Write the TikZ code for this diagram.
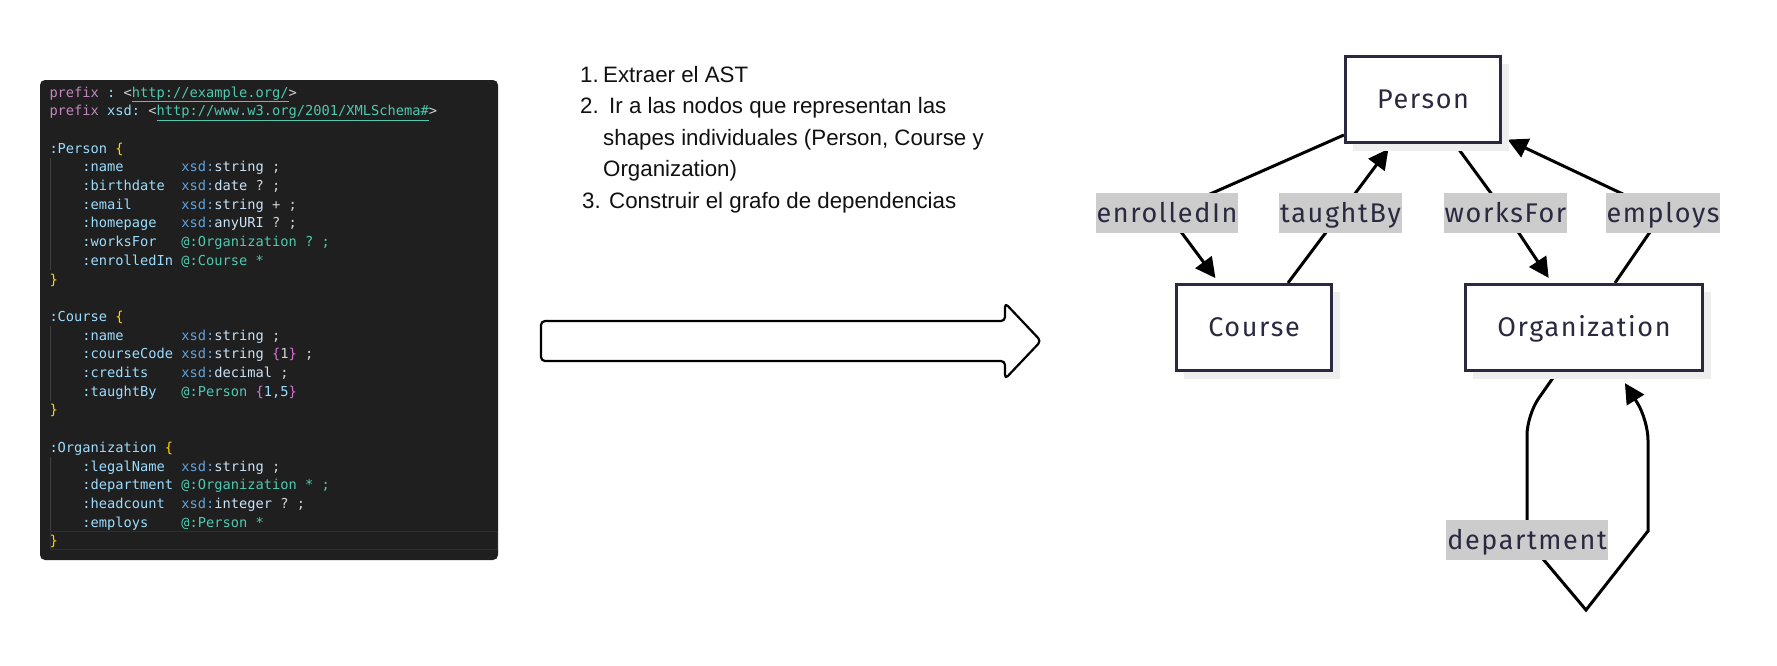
\documentclass[tikz,border=0pt]{standalone}
\usepackage{fontspec}
\usetikzlibrary{arrows.meta,shadows,backgrounds}
\setmainfont{Liberation Sans}
\newfontfamily\codefont{DejaVu Sans Mono}
\newfontfamily\graphfont[LetterSpace=6]{Fira Sans}

\definecolor{codebg}{HTML}{1F1F1F}
\definecolor{codeplain}{HTML}{D4D4D4}
\definecolor{codekw}{HTML}{C586C0}
\definecolor{codeprop}{HTML}{9CDCFE}
\definecolor{codelocal}{HTML}{C8E2F8}
\definecolor{codens}{HTML}{5FA2DC}
\definecolor{codeiri}{HTML}{4EC9B0}
\definecolor{codebrace}{HTML}{FFD700}
\definecolor{codecurly}{HTML}{DA70D6}
\definecolor{codeguide}{HTML}{404040}
\definecolor{codecur}{HTML}{2E2E2E}
\definecolor{steptextcol}{HTML}{111111}
\definecolor{graphline}{HTML}{2A2940}
\definecolor{graphtext}{HTML}{2A2940}
\definecolor{labelgray}{HTML}{CCCCCC}
\definecolor{shadowgray}{HTML}{EEEEEE}

\begin{document}
\begin{tikzpicture}[x=1pt, y=-1pt,
	codetext/.style={anchor=base west, inner sep=0pt, text=codeplain,
		font=\codefont\fontsize{13.7}{18.7}\selectfont\frenchspacing},
	steptext/.style={anchor=base west, inner sep=0pt, text=steptextcol,
		font=\fontsize{22.3}{31.5}\selectfont},
	shapebox/.style={draw=graphline, line width=2.7pt, fill=white,
		minimum height=86.5pt, inner sep=0pt, text height=18pt, text depth=0pt,
		font=\graphfont\fontsize{27}{32}\selectfont, text=graphtext,
		general shadow={fill=shadowgray, shadow xshift=8pt, shadow yshift=-8pt}},
	edgelabel/.style={fill=labelgray, inner xsep=1pt, inner ysep=0pt,
		minimum height=40pt, text height=19pt, text depth=0pt,
		font=\graphfont\fontsize{27}{32}\selectfont, text=graphtext},
	edgeline/.style={draw=black, line width=3pt,
		-{Triangle[length=20pt, width=20pt]}, shorten >=6pt},
	guide/.style={draw=codeguide, line width=1pt},
	curline/.style={draw=codecur, line width=1pt},
	bigarrow/.style={draw=black, line width=2.2pt, rounded corners=4pt, line join=round}]

	\useasboundingbox (0,0) rectangle (1777,665);

	% code colours
	\newcommand*{\ckw}[1]{\textcolor{codekw}{#1}}
	\newcommand*{\cprop}[1]{\textcolor{codeprop}{#1}}
	\newcommand*{\clocal}[1]{\textcolor{codelocal}{#1}}
	\newcommand*{\cns}[1]{\textcolor{codens}{#1}}
	\newcommand*{\ciri}[1]{\textcolor{codeiri}{\underline{#1}}}
	\newcommand*{\cshape}[1]{\textcolor{codeiri}{#1}}
	\newcommand*{\cbrace}[1]{\textcolor{codebrace}{#1}}
	\newcommand*{\ccurly}[1]{\textcolor{codecurly}{#1}}
	\newcommand*{\cfield}[2]{\hspace*{2.408em}\makebox[7.224em][l]{#1}#2}
	\newcommand*{\codeln}[2]{%
	\node[codetext] (code#1) at (49.3,{97+(#1-1)*18.7}) {#2};
	}

	% code panel
	\fill[codebg, rounded corners=5pt] (40,80) rectangle (498,560);
	\draw[guide] (50,158) -- (50,270);
	\draw[guide] (50,326) -- (50,401);
	\draw[guide] (50,457) -- (50,532);
	\draw[curline] (50,531) rectangle (497,549);

	\codeln{1}{\ckw{prefix} \cprop{:} <\ciri{http://example.org/}>}
	\codeln{2}{\ckw{prefix} \cprop{xsd:} <\ciri{http://www.w3.org/2001/XMLSchema\#}>}
	\codeln{4}{\cprop{:Person} \cbrace{\{}}
	\codeln{5}{\cfield{\cprop{:name}}{\cns{xsd:}\clocal{string} ;}}
	\codeln{6}{\cfield{\cprop{:birthdate}}{\cns{xsd:}\clocal{date} ? ;}}
	\codeln{7}{\cfield{\cprop{:email}}{\cns{xsd:}\clocal{string} + ;}}
	\codeln{8}{\cfield{\cprop{:homepage}}{\cns{xsd:}\clocal{anyURI} ? ;}}
	\codeln{9}{\cfield{\cprop{:worksFor}}{\cshape{@:Organization ? ;}}}
	\codeln{10}{\cfield{\cprop{:enrolledIn}}{\cshape{@:Course *}}}
	\codeln{11}{\cbrace{\}}}
	\codeln{13}{\cprop{:Course} \cbrace{\{}}
	\codeln{14}{\cfield{\cprop{:name}}{\cns{xsd:}\clocal{string} ;}}
	\codeln{15}{\cfield{\cprop{:courseCode}}{\cns{xsd:}\clocal{string} \ccurly{\{}1\ccurly{\}} ;}}
	\codeln{16}{\cfield{\cprop{:credits}}{\cns{xsd:}\clocal{decimal} ;}}
	\codeln{17}{\cfield{\cprop{:taughtBy}}{\cshape{@:Person} \ccurly{\{}\cprop{1,5}\ccurly{\}}}}
	\codeln{18}{\cbrace{\}}}
	\codeln{20}{\cprop{:Organization} \cbrace{\{}}
	\codeln{21}{\cfield{\cprop{:legalName}}{\cns{xsd:}\clocal{string} ;}}
	\codeln{22}{\cfield{\cprop{:department}}{\cshape{@:Organization * ;}}}
	\codeln{23}{\cfield{\cprop{:headcount}}{\cns{xsd:}\clocal{integer} ? ;}}
	\codeln{24}{\cfield{\cprop{:employs}}{\cshape{@:Person *}}}
	\codeln{25}{\cbrace{\}}}

	% steps
	\node[steptext] (num1) at (580,82) {1.};
	\node[steptext] (step1) at (603,82) {Extraer el AST};
	\node[steptext] (num2) at (580,113.5) {2.};
	\node[steptext] (step2a) at (609,113.5) {Ir a las nodos que representan las};
	\node[steptext] (step2b) at (603,145) {shapes individuales (Person, Course y};
	\node[steptext] (step2c) at (603,176.5) {Organization)};
	\node[steptext] (num3) at (582,208) {3.};
	\node[steptext] (step3) at (609,208) {Construir el grafo de dependencias};

	\draw[bigarrow] (541,321) -- (1005,321) -- (1005,303) -- (1041,341)
		-- (1005,379) -- (1005,361) -- (541,361) -- cycle;

	% dependency graph
	\node[shapebox, minimum width=155.5pt] (person) at (1423,99.5) {Person};
	\node[shapebox, minimum width=155.5pt] (course) at (1254,327.5) {Course};
	\node[shapebox, minimum width=237.5pt] (organization) at (1584,327.5) {Organization};

	\node[edgelabel] (enrolled) at (1167,213) {enrolledIn};
	\node[edgelabel] (taught) at (1340.5,213) {taughtBy};
	\node[edgelabel] (works) at (1505.5,213) {worksFor};
	\node[edgelabel] (employs) at (1663,213) {employs};
	\node[edgelabel] (department) at (1527,540) {department};

	\begin{pgfonlayer}{background}
	\fill[white] (0,0) rectangle (1777,665);
	\draw[edgeline] ([yshift=-35.5pt]person.west) -- (enrolled.center) -- ([xshift=-35pt]course.north);
	\draw[edgeline] ([xshift=34pt]course.north) -- (taught.center) -- ([xshift=-31pt]person.south);
	\draw[edgeline] ([xshift=32pt]person.south) -- (works.center) -- ([xshift=-32pt]organization.north);
	\draw[edgeline] ([xshift=31pt]organization.north) -- (employs.center) -- ([yshift=-37.5pt]person.east);
	\draw[edgeline, shorten >=13pt] ([xshift=-27pt]organization.south) [rounded corners=20pt]
		-- (1527,415) -- (department.center) [sharp corners] -- (1586,610) -- (1648,531)
		[rounded corners=20pt] -- (1648,420) -- ([xshift=34pt]organization.south);
	\end{pgfonlayer}
\end{tikzpicture}
\end{document}
